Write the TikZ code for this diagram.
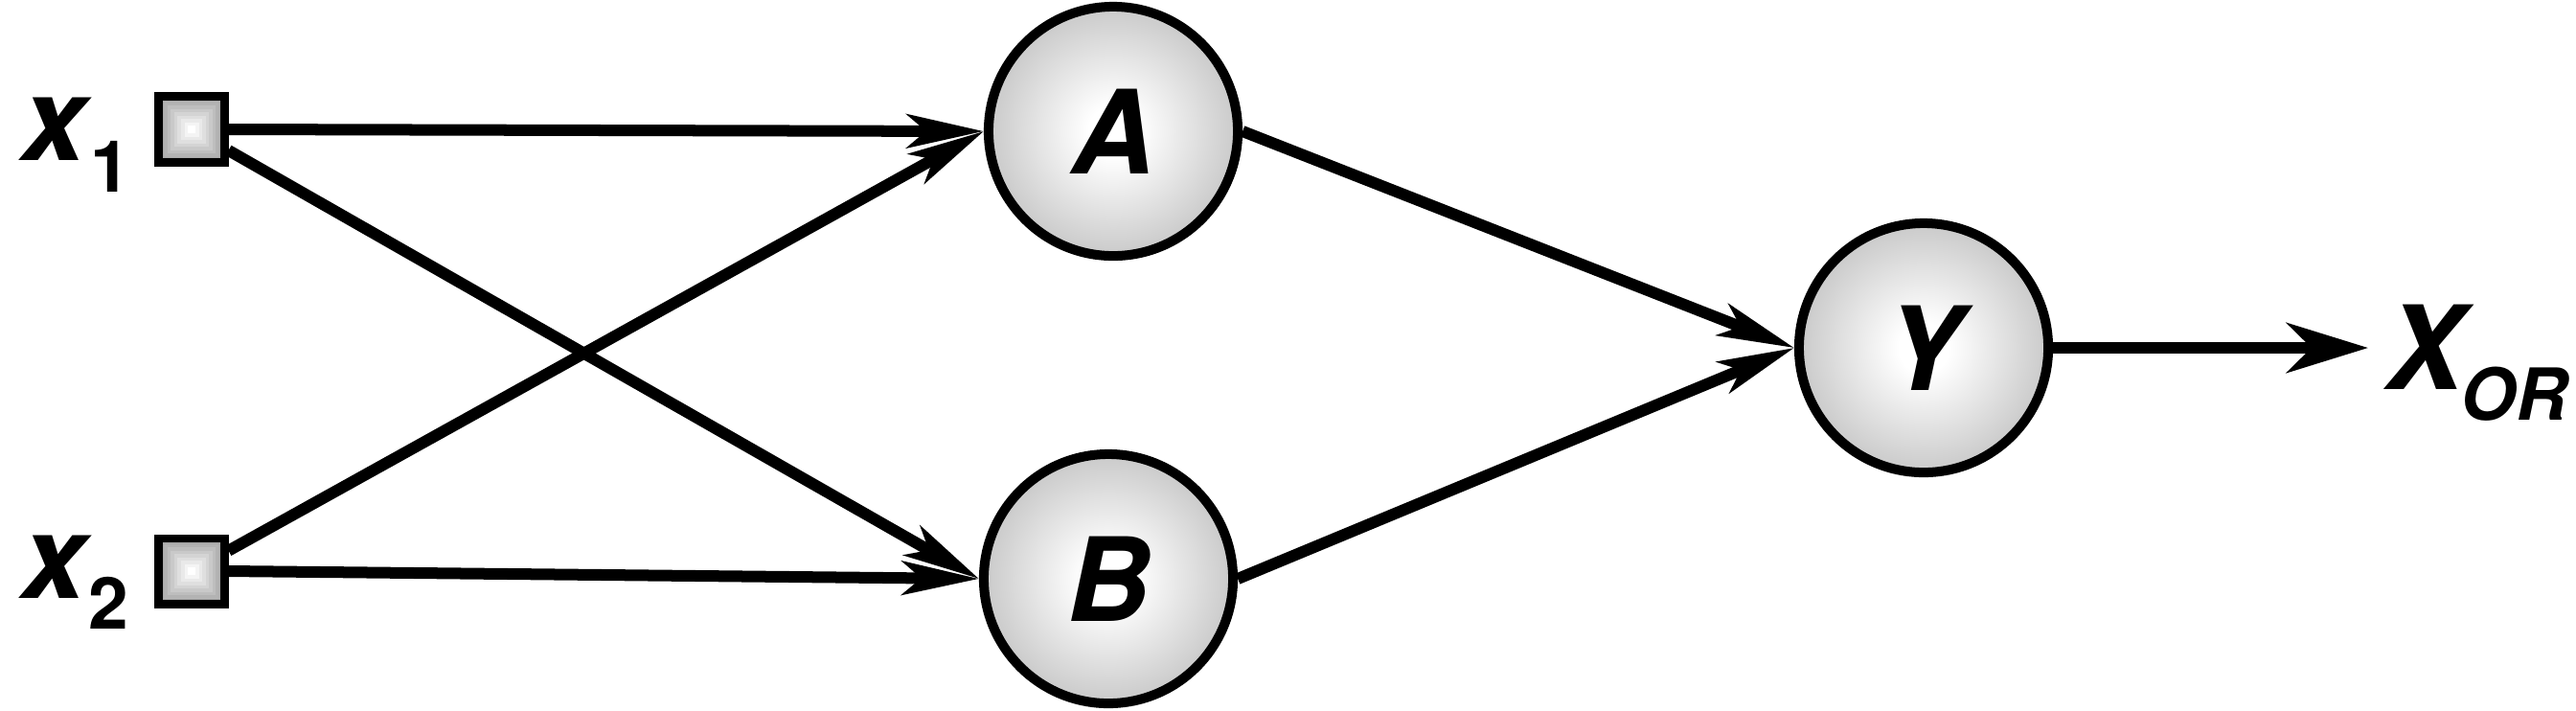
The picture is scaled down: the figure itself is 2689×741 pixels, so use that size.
\documentclass[tikz,border=0pt]{standalone}
\usepackage{fontspec}
\setmainfont{TeX Gyre Heros}
\usetikzlibrary{arrows.meta}
\pgfdeclareradialshading{ballgray}{\pgfpoint{0bp}{0bp}}{color(0bp)=(white); color(5bp)=(white); color(26bp)=(black!22); color(50bp)=(black!36)}
\newcommand{\bigf}{\fontsize{34.5}{40}\selectfont\bfseries\itshape}
\newcommand{\subf}{\fontsize{21.3}{24}\selectfont\bfseries}
\begin{document}
\begin{tikzpicture}[x=0.01cm,y=-0.01cm,
  neuron/.style={circle, draw=black, line width=0.1cm, minimum size=2.6cm, inner sep=0pt,
    shade, shading=ballgray, font=\bigf},
  inp/.style={rectangle, draw=black, line width=0.085cm, minimum size=0.685cm, inner sep=0pt,
    path picture={
      \foreach \k in {0,...,8}{
        \pgfmathsetmacro\s{0.32-\k*0.035}
        \pgfmathsetmacro\c{34-\k*4.25}
        \fill[black!\c] ([shift={(-\s cm,-\s cm)}]path picture bounding box.center)
          rectangle ([shift={(\s cm,\s cm)}]path picture bounding box.center);
      }}},
  lbl/.style={inner sep=0pt, anchor=base west, font=\bigf},
  conn/.style={line width=0.12cm, -{Stealth[length=0.8cm, width=0.35cm, inset=0.2cm]}},
  outconn/.style={line width=0.12cm, -{Stealth[length=0.85cm, width=0.52cm, inset=0.26cm]}}
]
\useasboundingbox (0,0) rectangle (2689,741);

\node[inp] (x1) at (200,135) {};
\node[inp] (x2) at (200,596) {};
\node[neuron] (A) at (1162,137) {A};
\node[neuron] (B) at (1157,604) {B};
\node[neuron] (Y) at (2008,363) {Y};
\coordinate (out) at (2472,363);

\node[lbl] (lx1) at (22,167) {x\kern0.04cm\raisebox{-0.33cm}{\subf\upshape 1}};
\node[lbl] (lx2) at (22,624) {x\kern0.02cm\raisebox{-0.32cm}{\subf\upshape 2}};
\node[lbl] (lxor) at (2490,406) {X\kern-0.03cm\raisebox{-0.32cm}{\subf\itshape OR}};

\draw[conn] (x1.east) -- (A.west);
\draw[conn] (x1) -- (B.west);
\draw[conn] (x2) -- (A.west);
\draw[conn] (x2.east) -- (B.west);
\draw[conn] (A.east) -- (Y.west);
\draw[conn] (B.east) -- (Y.west);
\draw[outconn] (Y.east) -- (out);
\end{tikzpicture}
\end{document}
